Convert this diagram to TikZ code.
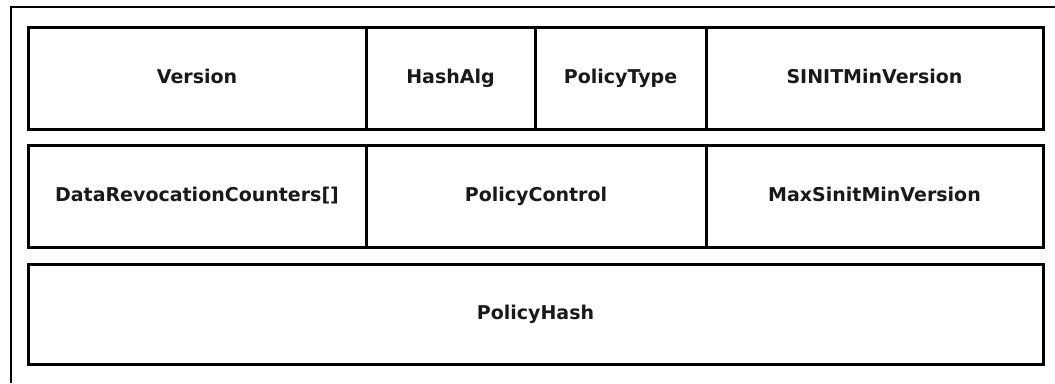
\documentclass[tikz,border=0pt]{standalone}
\usepackage{fontspec}
\setmainfont{DejaVu Sans}
\begin{document}
\begin{tikzpicture}[x=1pt,y=-1pt,
  cell/.style={draw=black, line width=3pt, anchor=north west, inner sep=0pt, outer sep=0pt,
    font=\fontsize{19}{22}\selectfont\bfseries, text=black!90, text height=14pt, text depth=4pt},
  frame/.style={draw=black, line width=2.4pt}]
\useasboundingbox (0,0) rectangle (1055,383);
\draw[frame] (11,383) -- (11,7) -- (1055,7);
% row 1
\node[cell, minimum width=338pt, minimum height=102pt] (version) at (28,27) {Version};
\node[cell, minimum width=169pt, minimum height=102pt] (hashalg) at (366,27) {HashAlg};
\node[cell, minimum width=171pt, minimum height=102pt] (policytype) at (535,27) {PolicyType};
\node[cell, minimum width=337pt, minimum height=102pt] (sinit) at (706,27) {SINITMinVersion};
% row 2
\node[cell, minimum width=338pt, minimum height=102pt] (drc) at (28,145) {DataRevocationCounters[]};
\node[cell, minimum width=340pt, minimum height=102pt] (pctrl) at (366,145) {PolicyControl};
\node[cell, minimum width=337pt, minimum height=102pt] (maxsinit) at (706,145) {MaxSinitMinVersion};
% row 3
\node[cell, minimum width=1015pt, minimum height=100pt] (phash) at (28,264) {PolicyHash};
\end{tikzpicture}
\end{document}
